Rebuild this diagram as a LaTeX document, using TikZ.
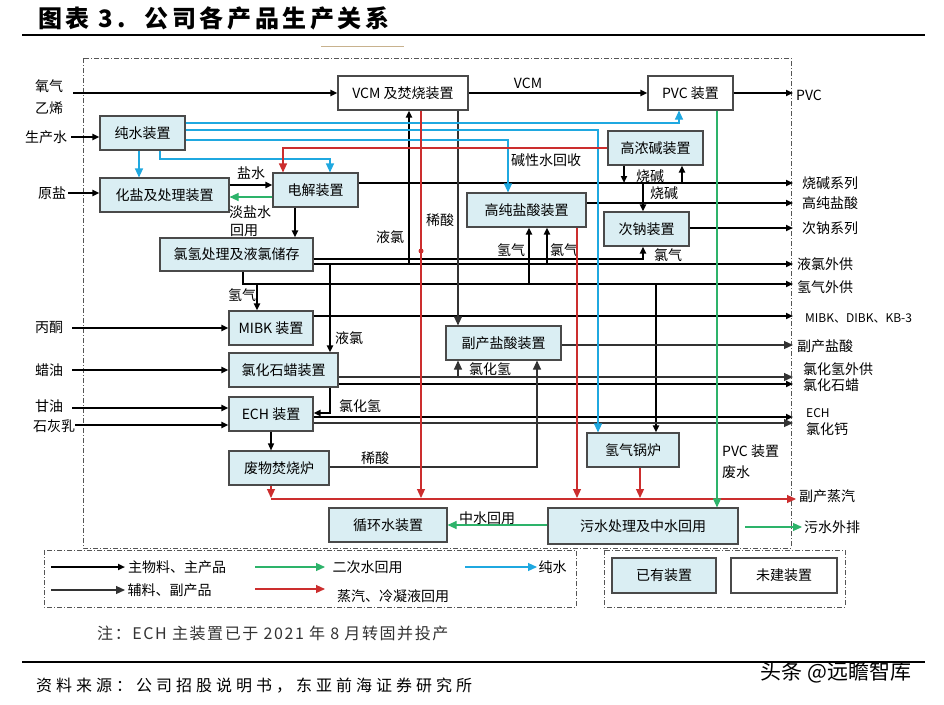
\documentclass[tikz,border=0pt]{standalone}
\usepackage{fontspec}
\setmainfont{Noto Sans CJK SC}
\usetikzlibrary{arrows.meta}
\definecolor{boxfill}{HTML}{DAEEF3}
\definecolor{boxline}{HTML}{4A4A4A}
\definecolor{bl}{HTML}{1FA8E0}
\definecolor{rd}{HTML}{CC2E2E}
\definecolor{gr}{HTML}{2DB36A}
\definecolor{subgray}{HTML}{333333}
\definecolor{tanline}{HTML}{C8B28E}
\definecolor{frame}{HTML}{555555}
\begin{document}
\begin{tikzpicture}[x=1pt,y=-1pt,
  every node/.style={font=\fontsize{14}{16}\selectfont, inner sep=0pt},
  unit/.style={draw=boxline, line width=1.1pt, fill=boxfill, minimum height=34pt, inner sep=0pt},
  newunit/.style={unit, fill=white},
  headtip/.style={-{Triangle[length=7pt,width=6pt]}},
  thintip/.style={-{Triangle[length=9pt,width=8pt]}},
  mainflow/.style={line width=2pt, headtip},
  subflow/.style={line width=1.1pt, draw=subgray, thintip},
  blueflow/.style={line width=1.1pt, draw=bl, thintip},
  redflow/.style={line width=1.1pt, draw=rd, thintip},
  greenflow/.style={line width=1.1pt, draw=gr, thintip},
  dashdot/.style={draw=frame, line width=0.8pt, dash pattern=on 5pt off 2pt on 1pt off 2pt},
  small/.style={font=\fontsize{12}{14}\selectfont}
]
\useasboundingbox (0,0) rectangle (944,704);
\fill[white] (0,0) rectangle (944,704);

% title
\node[anchor=west, font=\fontsize{24}{26}\selectfont\bfseries] (title) at (38,18) {\addfontfeature{LetterSpace=15}图表 3.\hspace{0.8em}公司各产品生产关系};
\draw[line width=2.2pt] (22,35) -- (925,35);
\draw[tanline, line width=1pt] (321,46) -- (404,46);

% frames
\draw[dashdot] (83,58) rectangle (791,548);
\draw[dashdot] (44,550) rectangle (576,607);
\draw[dashdot] (604,550) rectangle (845,607);

% units
\node[newunit, minimum width=130pt] (vcm) at (403,93) {VCM 及焚烧装置};
\node[newunit, minimum width=85pt] (pvc) at (690.5,93) {PVC 装置};
\node[unit, minimum width=85pt] (chs) at (142.5,133) {纯水装置};
\node[unit, minimum width=129pt] (hy) at (164.5,195) {化盐及处理装置};
\node[unit, minimum width=85pt] (dj) at (315.5,190) {电解装置};
\node[unit, minimum width=153pt, minimum height=33pt] (lq) at (236.5,254.5) {氯氢处理及液氯储存};
\node[unit, minimum width=95pt] (gnj) at (655.5,148) {高浓碱装置};
\node[unit, minimum width=119pt] (gcy) at (526.5,210) {高纯盐酸装置};
\node[unit, minimum width=85pt] (cn) at (646.5,229) {次钠装置};
\node[unit, minimum width=84pt] (mibk) at (271,328) {MIBK 装置};
\node[unit, minimum width=109pt] (lhsl) at (283.5,370) {氯化石蜡装置};
\node[unit, minimum width=115pt] (fcy) at (503.5,343) {副产盐酸装置};
\node[unit, minimum width=84pt] (ech) at (271,414) {ECH 装置};
\node[unit, minimum width=100pt] (fw) at (279,468) {废物焚烧炉};
\node[unit, minimum width=92pt] (qg) at (633,450) {氢气锅炉};
\node[unit, minimum width=118pt] (xhs) at (388,525) {循环水装置};
\node[unit, minimum width=190pt, minimum height=36pt] (ws) at (643,526) {污水处理及中水回用};
\node[unit, minimum width=104pt, minimum height=35pt] (yy) at (664,575.5) {已有装置};
\node[newunit, minimum width=106pt, minimum height=35pt] (wj) at (784,575.5) {未建装置};

% inputs
\node (iny) at (49,86) {氧气};
\node (iny2) at (49,108) {乙烯};
\node (insw) at (46,137) {生产水};
\node (inys) at (52,193) {原盐};
\node (inbt) at (49,327) {丙酮};
\node (inly) at (49,370) {蜡油};
\node (ingy) at (49,406) {甘油};
\node (insh) at (54,426) {石灰乳};
\coordinate (a1) at (73,93);
\coordinate (a2) at (71,137);
\coordinate (a3) at (68,193);
\coordinate (a4) at (72,328);
\coordinate (a5) at (72,370);
\coordinate (a6) at (72,408);
\coordinate (a7) at (75,425);
\draw[mainflow] (a1) -- (vcm.west);
\draw[mainflow] (a2) -- (a2 -| chs.west);
\draw[mainflow] (a3) -- (a3 -| hy.west);
\draw[mainflow] (a4) -- (a4 -| mibk.west);
\draw[mainflow] (a5) -- (a5 -| lhsl.west);
\draw[mainflow] (a6) -- (a6 -| ech.west);
\draw[mainflow] (a7) -- (a7 -| ech.west);

% outputs
\coordinate (oPVC) at (793,93);
\node[anchor=west] (tPVC) at (796,95) {PVC};
\node[anchor=west] (t1) at (802,183) {烧碱系列};
\node[anchor=west] (t2) at (802,203) {高纯盐酸};
\node[anchor=west] (t3) at (802,228) {次钠系列};
\node[anchor=west] (t4) at (797,264) {液氯外供};
\node[anchor=west] (t5) at (797,287) {氢气外供};
\node[anchor=west, small] (t6) at (805,318) {MIBK、DIBK、KB-3};
\node[anchor=west] (t7) at (797,346) {副产盐酸};
\node[anchor=west] (t8) at (803,369) {氯化氢外供};
\node[anchor=west] (t9) at (803,385) {氯化石蜡};
\node[anchor=west, small] (t10) at (806,413) {ECH};
\node[anchor=west] (t11) at (806,429) {氯化钙};
\node[anchor=west] (t12) at (799,496) {副产蒸汽};
\node[anchor=west] (t13) at (804,527) {污水外排};

% main flows
\draw[mainflow] (vcm.east) -- (pvc.west);
\node (lVCM) at (528,83) {VCM};
\draw[mainflow] (pvc.east) -- (oPVC);
\draw[mainflow] (hy.east |- 0,185) -- (dj.west |- 0,185);
\node (lys) at (251,173) {盐水};
\draw[mainflow] (dj.east |- 0,183) -- (793,183);
\draw[mainflow] (624,0 |- gnj.south) -- (624,183);
\draw[mainflow] (682,183) -- (682,0 |- gnj.south);
\node (lsj1) at (650,176) {烧碱};
\draw[mainflow] (643,183) -- (643,0 |- cn.north);
\node (lsj2) at (664,193) {烧碱};
\draw[mainflow] (gcy.east |- 0,203) -- (793,203);
\draw[mainflow] (cn.east |- 0,228) -- (793,228);
\draw[mainflow] (295,0 |- dj.south) -- (295,0 |- lq.north);
\draw[mainflow] (lq.east |- 0,259) -- (643,259) -- (643,0 |- cn.south);
\node (lcl3) at (668,255) {氯气};
\draw[mainflow] (lq.east |- 0,264) -- (793,264);
\draw[mainflow] (409,264) -- (409,0 |- vcm.south);
\node (lyl1) at (390,237) {液氯};
\draw[mainflow] (330,264) -- (330,0 |- lhsl.north);
\node (lyl2) at (349,338) {液氯};
\draw[mainflow] (547,264) -- (547,0 |- gcy.south);
\node (lcl2) at (564,250) {氯气};
\draw[mainflow] (243,0 |- lq.south) -- (243,284) -- (793,284);
\draw[mainflow] (257,284) -- (257,0 |- mibk.north);
\node (lh1) at (242,295) {氢气};
\draw[mainflow] (529,284) -- (529,0 |- gcy.south);
\node (lh2) at (511,250) {氢气};
\draw[mainflow] (656,284) -- (656,0 |- qg.north);
\draw[mainflow] (mibk.east |- 0,316) -- (793,316);
\draw[mainflow] (lhsl.east |- 0,384) -- (793,384);
\draw[mainflow] (ech.east |- 0,417) -- (793,417);
\draw[mainflow] (330,0 |- lhsl.south) -- (330,413) -- (ech.east |- 0,413);
\node (lhcl1) at (360,406) {氯化氢};
\draw[line width=1.3pt, headtip] (271,0 |- ech.south) -- (271,0 |- fw.north);

% sub flows
\draw[subflow] (458,0 |- vcm.south) -- (458,0 |- fcy.north);
\draw[subflow] (fcy.east |- 0,345) -- (793,345);
\draw[subflow] (lhsl.east |- 0,377) -- (793,377);
\draw[subflow] (458,377) -- (458,0 |- fcy.south);
\node (lhcl2) at (490,369) {氯化氢};
\draw[subflow] (ech.east |- 0,423) -- (793,423);
\draw[subflow] (fw.east |- 0,467) -- (537,467) -- (537,0 |- fcy.south);
\node (lxs2) at (375,458) {稀酸};

% blue flows
\draw[blueflow] (chs.east |- 0,123) -- (679,123) -- (679,0 |- pvc.south);
\draw[blueflow] (chs.east |- 0,130) -- (598,130) -- (598,0 |- qg.north);
\draw[blueflow] (chs.east |- 0,140) -- (508,140) -- (508,0 |- gcy.north);
\draw[blueflow] (139,0 |- chs.south) -- (139,0 |- hy.north);
\draw[blueflow] (160,0 |- chs.south) -- (160,159) -- (330,159) -- (330,0 |- dj.north);

% red flows
\draw[redflow] (gnj.west |- 0,148) -- (283,148) -- (283,0 |- dj.north);
\node (ljx) at (546,160) {碱性水回收};
\draw[redflow] (421,0 |- vcm.south) -- (421,498);
\fill[rd] (421,251) circle (2.5pt);
\node (lxs1) at (440,220) {稀酸};
\draw[redflow] (577,0 |- gcy.south) -- (577,498);
\draw[redflow] (640,0 |- qg.south) -- (640,498);
\draw[redflow] (271,0 |- fw.south) -- (271,498);
\draw[redflow] (271,499) -- (796,499);

% green flows
\draw[greenflow] (717,0 |- pvc.south) -- (717,0 |- ws.north);
\node[anchor=west] (lpvcw) at (722,451) {PVC 装置};
\node[anchor=west] (lfs) at (722,472) {废水};
\draw[greenflow] (dj.west |- 0,197) -- (hy.east |- 0,197);
\node (ldys) at (250,212) {淡盐水};
\node (lhy) at (244,230) {回用};
\draw[greenflow] (ws.west |- 0,525) -- (xhs.east |- 0,525);
\node (lzs) at (487,518) {中水回用};
\coordinate (wsout) at (745,527);
\draw[greenflow] (wsout) -- (802,527);

% legend
\coordinate (g1) at (51,567);
\coordinate (g2) at (51,590);
\coordinate (g3) at (255,567);
\coordinate (g4) at (255,589);
\coordinate (g5) at (465,567);
\draw[mainflow] (g1) -- ++(74,0) node[anchor=west, xshift=2pt] (lg1) {主物料、主产品};
\draw[subflow] (g2) -- ++(74,0) node[anchor=west, xshift=2pt] (lg2) {辅料、副产品};
\draw[greenflow] (g3) -- ++(70,0) node[anchor=west, xshift=7pt] (lg3) {二次水回用};
\draw[redflow] (g4) -- ++(70,0);
\node[anchor=west] (lg4) at (337,596) {蒸汽、冷凝液回用};
\draw[blueflow] (g5) -- ++(72,0) node[anchor=west, xshift=1pt] (lg5) {纯水};

% notes
\node[anchor=west, text=black!80, font=\fontsize{16}{18}\selectfont] (note) at (97,633) {\addfontfeature{LetterSpace=10}注：ECH 主装置已于 2021 年 8 月转固并投产};
\draw[line width=2.2pt] (22,662) -- (925,662);
\node[anchor=west, font=\fontsize{16}{18}\selectfont] (src) at (36,686) {\addfontfeature{LetterSpace=25}资料来源：公司招股说明书，东亚前海证券研究所};
\node[font=\fontsize{21}{23}\selectfont] (wm) at (836,672) {头条 @远瞻智库};
\end{tikzpicture}
\end{document}
